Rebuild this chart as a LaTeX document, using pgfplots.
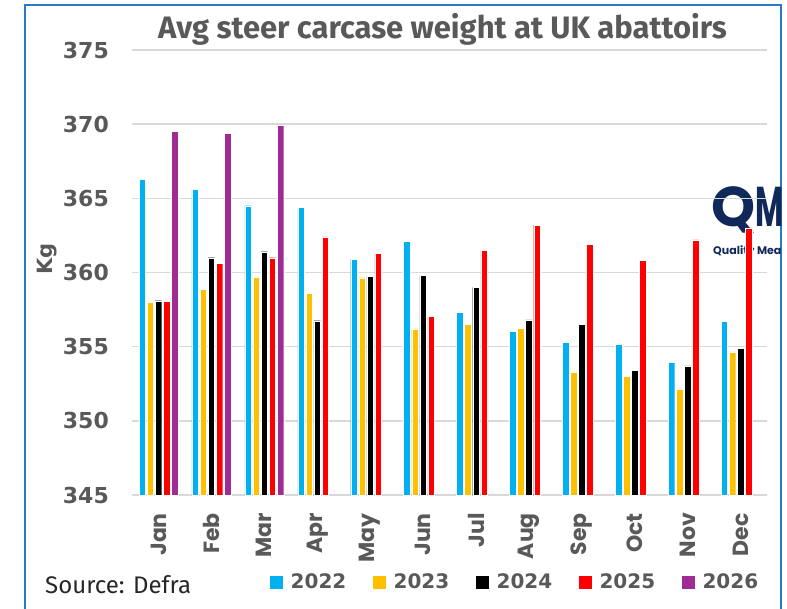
\documentclass[border=0pt]{standalone}
\usepackage{pgfplots}
\usepackage{pgfplotstable}
\pgfplotsset{compat=1.18}
\usepackage{fontspec}
\setmainfont{Fira Sans}
\newfontfamily\pop{Poppins}
\newfontfamily\dvs{DejaVu Sans}
\definecolor{c22}{HTML}{00B0F0}
\definecolor{c23}{HTML}{FFC000}
\definecolor{c24}{HTML}{000000}
\definecolor{c25}{HTML}{FF0000}
\definecolor{c26}{HTML}{A02B93}
\definecolor{txt}{HTML}{595959}
\definecolor{gridc}{HTML}{D9D9D9}
\definecolor{frame}{HTML}{2A7BC6}
\definecolor{navy}{HTML}{10295A}

\pgfplotstableread{
x a b c d
0 366.3 358.0 358.1 358.05
1 365.6 358.85 361.0 360.6
2 364.5 359.7 361.4 361.0
3 364.4 358.6 356.75 362.4
4 360.9 359.65 359.75 361.3
5 362.1 356.2 359.8 357.05
6 357.3 356.5 359.0 361.5
7 356.05 356.25 356.8 363.2
8 355.3 353.3 356.5 361.9
9 355.15 353.0 353.4 360.8
10 353.95 352.15 353.7 362.2
11 356.7 354.65 354.9 363.0
}\data

\begin{document}
\begin{tikzpicture}[x=1pt,y=1pt]
\useasboundingbox (0,0) rectangle (787,608);
\draw[frame, line width=1.5pt] (25,-2) -- (25,603) -- (781,603) -- (781,-2);
% logo
\node[anchor=base west, inner sep=0pt, text=navy, font=\pop\bfseries\fontsize{56}{56}\selectfont] at (711,381) {Q};
\node[anchor=base west, inner sep=0pt, xscale=0.55, text=navy, font=\pop\bfseries\fontsize{56}{56}\selectfont] at (755,381) {M};
\node[anchor=base west, inner sep=0pt, text=navy, font=\pop\bfseries\fontsize{11}{11}\selectfont] at (713,353) {Quality Mea};
\node[anchor=base, inner sep=0pt, font=\bfseries\fontsize{31}{31}\selectfont, text=txt] at (442.5,569.7) {Avg steer carcase weight at UK abattoirs};
\node[anchor=base west, inner sep=0pt, font=\fontsize{24}{24}\selectfont, text=black!85] at (45,15) {Source: Defra};
\node[rotate=90, font=\dvs\bfseries\fontsize{21}{21}\selectfont, text=txt] at (47,349) {Kg};
\begin{axis}[
  at={(132pt,113pt)}, anchor=south west,
  scale only axis, width=635pt, height=445pt,
  xmin=-0.5, xmax=11.5, ymin=345, ymax=375,
  ytick={345,350,...,375},
  xtick={0,...,11},
  xticklabels={Jan,Feb,Mar,Apr,May,Jun,Jul,Aug,Sep,Oct,Nov,Dec},
  axis line style={draw=none},
  major tick length=0pt,
  ymajorgrids, grid style={gridc, line width=1.6pt},
  /pgf/number format/assume math mode=true,
  yticklabel style={inner sep=0pt, anchor=east, xshift=-23pt, text=txt, font=\dvs\bfseries\fontsize{22}{22}\selectfont},
  xticklabel style={inner sep=0pt, rotate=90, anchor=east, xshift=-18pt, text=txt, font=\pop\bfseries\fontsize{22}{22}\selectfont},
  legend columns=5,
  legend style={draw=none, fill=none, inner sep=0pt, at={(0.216,-0.1955)}, anchor=west,
    font=\dvs\bfseries\fontsize{20}{20}\selectfont, text=txt,
    nodes={inner sep=0pt, text=txt},
    /tikz/every odd column/.append style={column sep=7pt},
    /tikz/every even column/.append style={column sep=26pt}},
  legend image code/.code={\fill[#1] (0pt,-7pt) rectangle (14pt,7pt);},
]
\addplot[ybar, bar width=6.5pt, bar shift=-16.2pt, fill=c22, draw=white, line width=0.3pt] table[x=x,y=a]{\data};
\addplot[ybar, bar width=6.5pt, bar shift=-8.1pt, fill=c23, draw=white, line width=0.3pt] table[x=x,y=b]{\data};
\addplot[ybar, bar width=6.5pt, bar shift=0pt, fill=c24, draw=white, line width=0.3pt] table[x=x,y=c]{\data};
\addplot[ybar, bar width=6.5pt, bar shift=8.1pt, fill=c25, draw=white, line width=0.3pt] table[x=x,y=d]{\data};
\addplot[ybar, bar width=6.5pt, bar shift=16.2pt, fill=c26, draw=white, line width=0.3pt] coordinates {(0,369.5) (1,369.4) (2,369.9)};
\legend{2022,2023,2024,2025,2026}
\end{axis}
\end{tikzpicture}
\end{document}
